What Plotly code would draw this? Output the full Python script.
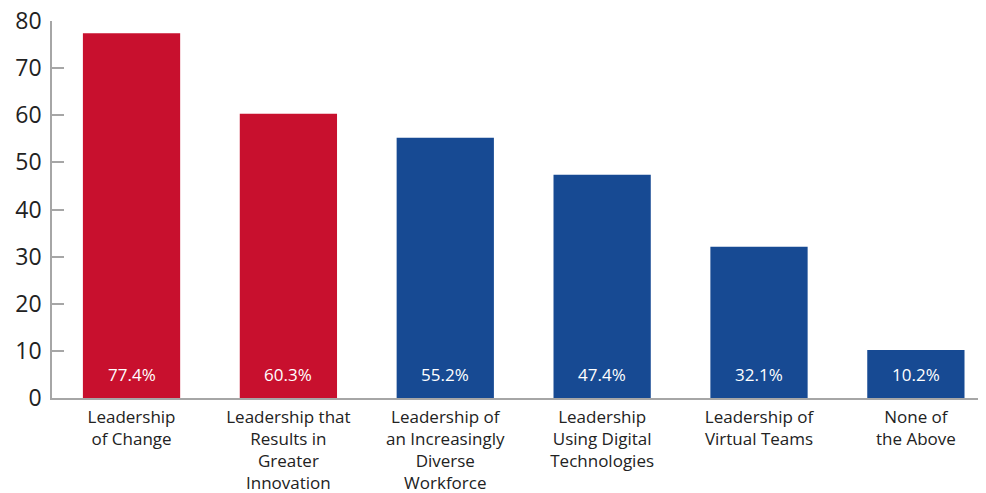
import plotly.graph_objects as go

categories = [
    "Leadership<br>of Change",
    "Leadership that<br>Results in<br>Greater<br>Innovation",
    "Leadership of<br>an Increasingly<br>Diverse<br>Workforce",
    "Leadership<br>Using Digital<br>Technologies",
    "Leadership of<br>Virtual Teams",
    "None of<br>the Above",
]
values = [77.4, 60.3, 55.2, 47.4, 32.1, 10.2]
colors = ["#C8102E", "#C8102E", "#174A93", "#174A93", "#174A93", "#174A93"]
ytick_vals = [0, 10, 20, 30, 40, 50, 60, 70, 80]

FONT = "Open Sans"
xs = list(range(len(categories)))

fig = go.Figure()
fig.add_trace(go.Bar(
    x=xs, y=values, marker=dict(color=colors, line=dict(width=0)),
    width=0.62, hoverinfo="skip",
))

for x, v in zip(xs, values):
    fig.add_annotation(
        x=x, y=0, text=f"{v}%", showarrow=False, yanchor="bottom", yshift=10,
        font=dict(family=FONT, size=17, color="#FFFFFF"),
    )

fig.update_layout(
    width=986, height=493,
    margin=dict(l=44, r=8, t=13, b=103),
    plot_bgcolor="white", paper_bgcolor="white",
    showlegend=False,
    font=dict(family=FONT, color="#222222"),
)
fig.update_xaxes(
    range=[-0.507, 5.447], tickvals=xs, ticktext=categories,
    showgrid=False, zeroline=False, showline=True, linecolor="#A6A6A6", linewidth=1.5,
    ticks="", tickfont=dict(family=FONT, size=17, color="#222222"),
    ticklabelstandoff=3, ticklabeloverflow="allow",
    automargin=False, fixedrange=True,
)
fig.update_yaxes(
    range=[0, 80], tickvals=ytick_vals,
    showgrid=False, zeroline=False, showline=True, linecolor="#A6A6A6", linewidth=1.5,
    ticks="inside", ticklen=12, tickcolor="#A6A6A6", tickwidth=1.5,
    tickfont=dict(family=FONT, size=23, color="#222222"),
    ticklabelstandoff=4, ticklabeloverflow="allow",
    automargin=False, fixedrange=True,
)

fig.write_html("out.html")
